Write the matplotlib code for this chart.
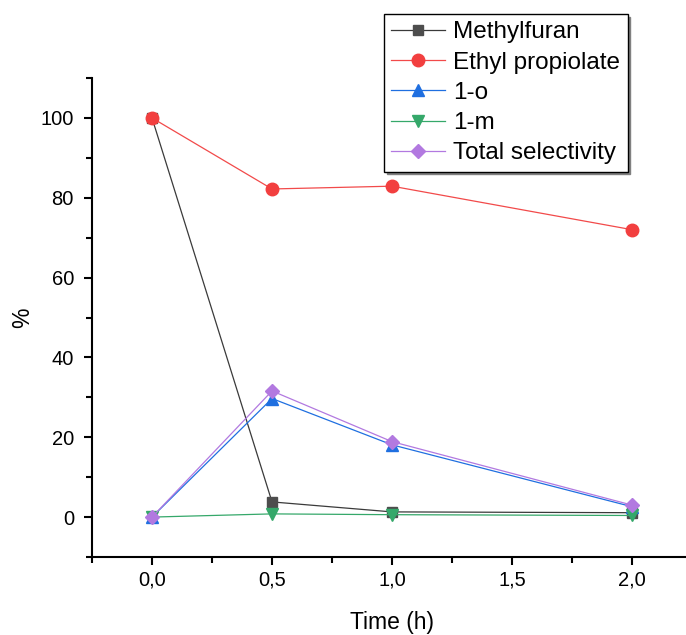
import matplotlib.pyplot as plt
from matplotlib.ticker import MultipleLocator, FuncFormatter

plt.rcParams['font.family'] = ['Liberation Sans', 'DejaVu Sans']

time_h = [0.0, 0.5, 1.0, 2.0]
methylfuran = [100, 3.8, 1.3, 1.1]
ethyl_propiolate = [100, 82.2, 82.9, 72.0]
one_o = [0, 29.7, 18.1, 2.6]
one_m = [0, 0.8, 0.6, 0.4]
total_sel = [0, 31.6, 18.9, 3.0]

fig = plt.figure(figsize=(6.86, 6.35), dpi=100)
ax = fig.add_axes([92/686, (635-557)/635, 600/686, (557-78)/635])

ax.plot(time_h, methylfuran, color='#3a3a3a', lw=0.9, marker='s', ms=7.5,
        mfc='#4d4d4d', mec='#4d4d4d', label='Methylfuran')
ax.plot(time_h, ethyl_propiolate, color='#f24a4a', lw=0.9, marker='o', ms=9,
        mfc='#f23f3f', mec='#f23f3f', label='Ethyl propiolate')
ax.plot(time_h, one_o, color='#1f6fe0', lw=0.9, marker='^', ms=9,
        mfc='#1f6fe0', mec='#1f6fe0', label='1-o')
ax.plot(time_h, one_m, color='#35a86a', lw=0.9, marker='v', ms=9,
        mfc='#35a86a', mec='#35a86a', label='1-m')
ax.plot(time_h, total_sel, color='#b279e0', lw=0.9, marker='D', ms=7.5,
        mfc='#b279e0', mec='#b279e0', label='Total selectivity')

ax.set_xlim(-0.25, 2.25)
ax.set_ylim(-10, 110)
ax.xaxis.set_major_locator(MultipleLocator(0.5))
ax.xaxis.set_minor_locator(MultipleLocator(0.25))
ax.yaxis.set_major_locator(MultipleLocator(20))
ax.yaxis.set_minor_locator(MultipleLocator(10))
ax.xaxis.set_major_formatter(FuncFormatter(lambda v, p: f'{v:.1f}'.replace('.', ',')))

for s in ['top', 'right']:
    ax.spines[s].set_visible(False)
for s in ['left', 'bottom']:
    ax.spines[s].set_linewidth(1.5)
ax.tick_params(which='major', length=6, width=1.5, labelsize=14.5)
ax.tick_params(which='minor', length=4, width=1.5)
ax.tick_params(axis='y', which='major', pad=7)
ax.tick_params(axis='x', which='major', pad=4)

ax.set_xlabel('Time (h)', fontsize=16.5, labelpad=15)
ax.set_ylabel('%', fontsize=16.5, labelpad=5)

leg = ax.legend(loc='upper left', bbox_to_anchor=(384/686, 1 - 14/635),
                bbox_transform=fig.transFigure, fontsize=17.5, frameon=True,
                fancybox=False, shadow={'color': '#808080', 'alpha': 1},
                borderaxespad=0, handlelength=2.2,
                labelspacing=0.34, borderpad=0.3, handletextpad=0.35)
leg.get_frame().set_edgecolor('black')
leg.get_frame().set_linewidth(1)

fig.savefig('out.png', dpi=100)
